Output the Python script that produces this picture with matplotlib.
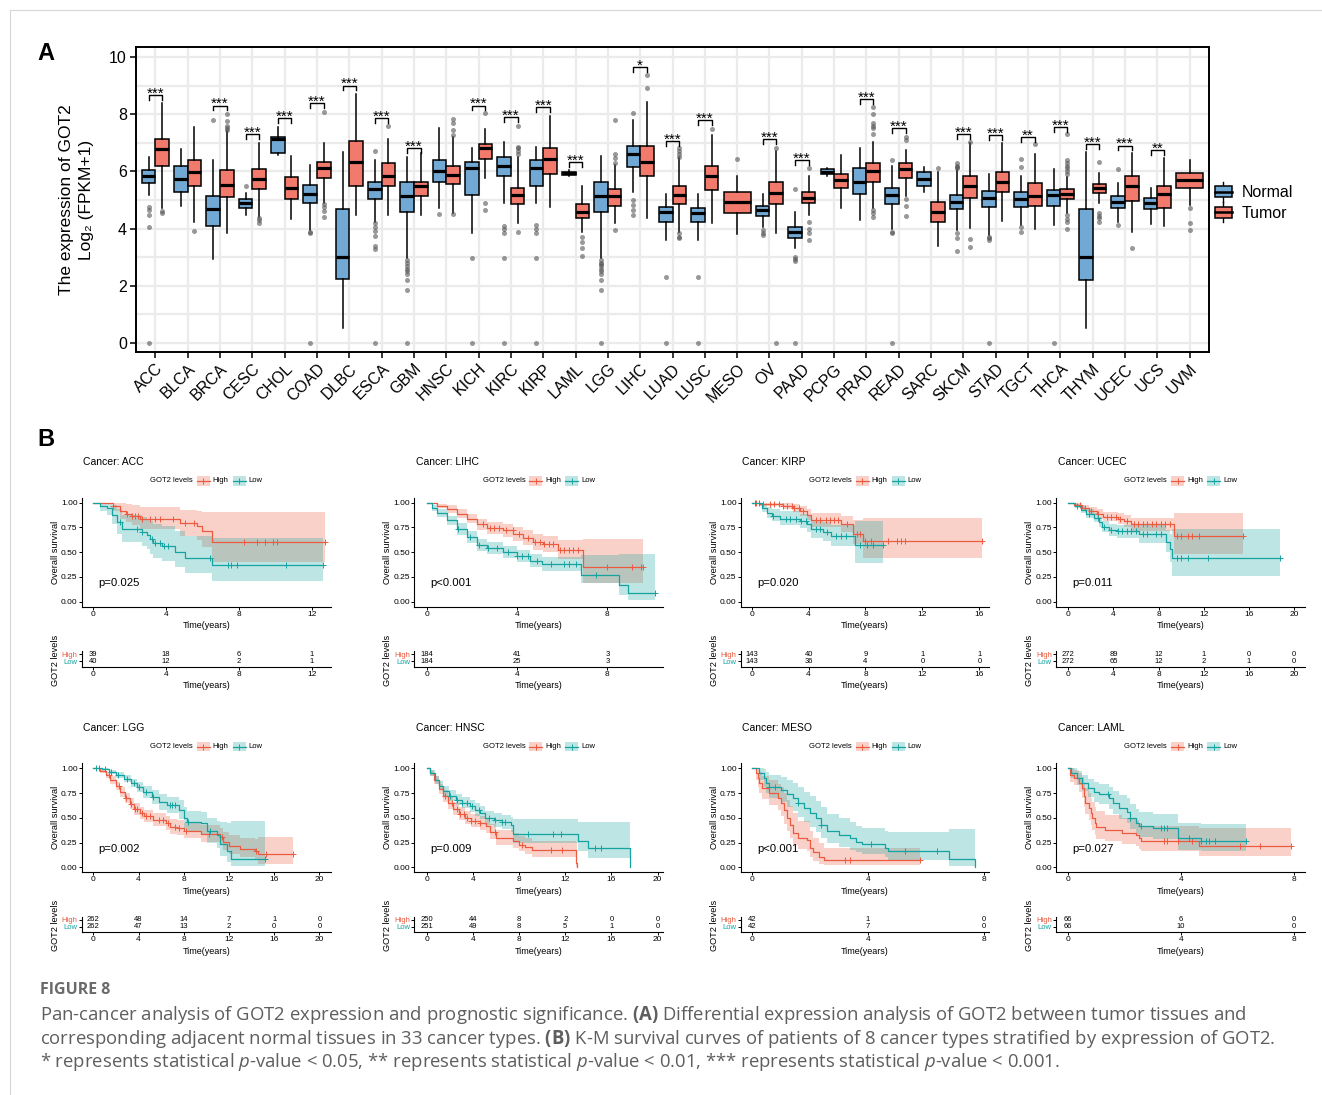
import numpy as np
import matplotlib
matplotlib.use('Agg')
import matplotlib.pyplot as plt
import matplotlib.transforms as mtransforms
from matplotlib.patches import Rectangle, Patch
from matplotlib.lines import Line2D
from matplotlib.legend_handler import HandlerBase

# ---------------- panel A data ----------------
cancers = ['ACC', 'BLCA', 'BRCA', 'CESC', 'CHOL', 'COAD', 'DLBC', 'ESCA', 'GBM', 'HNSC', 'KICH',
           'KIRC', 'KIRP', 'LAML', 'LGG', 'LIHC', 'LUAD', 'LUSC', 'MESO', 'OV', 'PAAD', 'PCPG',
           'PRAD', 'READ', 'SARC', 'SKCM', 'STAD', 'TGCT', 'THCA', 'THYM', 'UCEC', 'UCS', 'UVM']

# (whisker low, q1, median, q3, whisker high); None = no normal samples
normal_box = [
    (5.17, 5.58, 5.84, 6.05, 6.49), (4.80, 5.29, 5.72, 6.19, 6.78), (2.94, 4.10, 4.69, 5.15, 6.38),
    (4.48, 4.71, 4.88, 5.02, 5.23), (6.57, 6.65, 7.12, 7.21, 7.54), (3.95, 4.88, 5.21, 5.52, 6.22),
    (0.51, 2.23, 3.02, 4.69, 6.67), (4.24, 5.02, 5.37, 5.62, 6.38), (2.96, 4.59, 5.15, 5.64, 6.49),
    (4.71, 5.61, 6.01, 6.38, 7.51), (3.86, 5.17, 6.11, 6.34, 6.83), (4.88, 5.82, 6.19, 6.49, 7.02),
    (4.88, 5.47, 6.13, 6.38, 6.84), (5.82, 5.87, 5.93, 5.99, 6.05), (2.96, 4.57, 5.15, 5.64, 6.52),
    (5.26, 6.14, 6.60, 6.89, 7.80), (3.60, 4.24, 4.57, 4.74, 5.21), (3.60, 4.24, 4.56, 4.73, 5.21),
    None, (4.07, 4.45, 4.65, 4.80, 5.20), (3.31, 3.66, 3.87, 4.07, 4.59),
    (5.82, 5.90, 5.99, 6.07, 6.13), (4.30, 5.20, 5.62, 6.11, 6.81), (3.97, 4.85, 5.17, 5.41, 6.17),
    (5.29, 5.49, 5.72, 5.96, 6.14), (3.95, 4.67, 4.94, 5.17, 6.05), (3.78, 4.77, 5.08, 5.31, 5.91),
    (4.13, 4.77, 5.02, 5.26, 5.84), (4.13, 4.80, 5.17, 5.35, 6.07), (0.51, 2.20, 3.02, 4.67, 6.69),
    (4.24, 4.73, 4.92, 5.12, 5.58), (4.15, 4.69, 4.91, 5.08, 5.41), None]
normal_out = [
    [4.77, 4.65, 4.48, 4.04, 0], [], [7.80], [5.50], [], [3.89, 3.86, 0], [],
    [6.72, 4.18, 4.05, 3.9, 3.75, 3.4, 3.3, 0], [2.9, 2.8, 2.7, 2.6, 2.5, 2.4, 2.2, 1.85, 0],
    [4.51], [2.98, 0], [4.10, 3.97, 3.86, 2.98, 0], [4.13, 3.97, 3.86, 2.98, 0], [],
    [2.9, 2.8, 2.75, 2.7, 2.6, 2.5, 2.4, 2.2, 1.85, 0], [8.03, 5.0, 4.83, 4.65, 4.48],
    [2.32, 0], [2.32, 0], [], [3.95, 3.85, 3.78], [5.37, 3.0, 2.92, 2.85, 0], [], [],
    [6.40, 3.89, 3.83, 0], [], [6.28, 6.2, 6.15, 6.1, 3.86, 3.66, 3.23], [3.72, 3.66, 3.6, 0],
    [6.42, 6.14, 4.07, 3.89], [0], [], [6.08, 4.13], [], []]

tumor_box = [
    (4.71, 6.17, 6.78, 7.12, 8.40), (4.24, 5.49, 5.97, 6.38, 7.56), (3.86, 5.09, 5.52, 6.03, 7.40),
    (4.42, 5.37, 5.72, 6.07, 7.00), (4.32, 5.02, 5.41, 5.79, 6.54), (4.91, 5.78, 6.13, 6.34, 7.00),
    (4.48, 5.50, 6.34, 7.06, 8.71), (4.48, 5.50, 5.84, 6.28, 7.13), (4.48, 5.15, 5.47, 5.64, 6.65),
    (4.53, 5.55, 5.87, 6.17, 7.21), (5.76, 6.43, 6.83, 6.95, 7.48), (4.18, 4.85, 5.17, 5.43, 6.50),
    (4.74, 5.90, 6.43, 6.81, 7.94), (3.89, 4.38, 4.59, 4.85, 5.47), (4.21, 4.80, 5.12, 5.37, 6.22),
    (4.36, 5.82, 6.34, 6.89, 8.41), (3.89, 4.85, 5.17, 5.50, 6.45), (4.21, 5.35, 5.82, 6.17, 7.27),
    (3.80, 4.53, 4.92, 5.27, 5.82), (3.86, 4.86, 5.23, 5.61, 6.70), (4.48, 4.88, 5.08, 5.29, 5.84),
    (4.71, 5.43, 5.70, 5.91, 6.57), (4.71, 5.64, 6.01, 6.28, 7.04), (5.12, 5.78, 6.07, 6.28, 6.75),
    (3.39, 4.22, 4.57, 4.94, 5.99), (4.01, 5.08, 5.50, 5.84, 6.98), (4.27, 5.27, 5.64, 5.97, 6.98),
    (3.97, 4.80, 5.14, 5.58, 6.60), (4.53, 5.02, 5.21, 5.38, 5.80), (4.88, 5.23, 5.41, 5.56, 5.93),
    (3.89, 4.97, 5.47, 5.82, 6.63), (4.09, 4.71, 5.20, 5.47, 6.46), (4.83, 5.43, 5.68, 5.93, 6.38)]
tumor_out = [
    [4.63, 4.56], [3.93], [8.0, 7.76, 7.59, 7.52, 7.46], [4.36, 4.30, 4.21], [],
    [8.09, 4.85, 4.75, 4.6, 4.4], [], [7.59], [], [7.83, 7.7, 7.45, 7.27, 4.51],
    [8.03, 4.88, 4.65], [6.6, 6.7, 6.8, 6.86, 7.59, 3.89], [], [3.69, 3.54, 3.31, 3.04],
    [7.80, 6.6, 6.45, 6.3, 3.95], [8.93, 9.37], [6.5, 6.6, 6.7, 6.8, 3.83, 3.72, 3.66], [7.48],
    [6.42], [6.83, 0], [6.10, 4.24, 4.0, 3.86, 3.6], [],
    [8.26, 8.0, 7.7, 7.6, 7.5, 7.3, 4.65, 4.55, 4.42], [7.21, 7.1, 5.02, 4.80, 4.45], [6.10],
    [7.04, 3.62, 3.37], [], [6.95], [5.9, 6.0, 6.1, 6.2, 6.3, 6.4, 7.30, 4.48, 4.35, 4.24, 3.97],
    [6.31, 4.53, 4.45, 4.38, 4.24], [3.31], [], [4.71, 4.18, 3.95]]

sig_label = ['***', '', '***', '***', '***', '***', '***', '***', '***', '', '***', '***', '***',
             '***', '', '*', '***', '***', '', '***', '***', '', '***', '***', '', '***', '***',
             '**', '***', '***', '***', '**', '']
sig_height = [8.67, 0, 8.30, 7.31, 7.86, 8.38, 9.0, 7.86, 6.81, 0, 8.30, 7.89, 8.24, 6.32, 0,
              9.64, 7.07, 7.80, 0, 7.12, 6.38, 0, 8.52, 7.51, 0, 7.30, 7.27, 7.21, 7.56, 6.96,
              6.90, 6.75, 0]

# ---------------- panel B data (Kaplan-Meier curves) ----------------
acc_high_t = [0, 1.06, 1.47, 1.79, 2.1, 2.56, 4.76, 5.68, 5.95, 6.5]
acc_high_s = [1.0, 0.97, 0.92, 0.89, 0.87, 0.84, 0.79, 0.76, 0.71, 0.60]
acc_high_lo = [1.0, 0.92, 0.84, 0.80, 0.77, 0.73, 0.66, 0.62, 0.55, 0.40]
acc_high_up = [1.0, 1.0, 1.0, 0.99, 0.98, 0.96, 0.93, 0.92, 0.91, 0.91]
acc_high_cens = [1.06, 1.87, 2.11, 2.29, 2.47, 2.66, 3.11, 3.39, 3.66, 4.36, 5.04, 5.53, 8.28,
                 8.97, 9.43, 9.89, 10.07, 12.73]
acc_low_t = [0, 0.37, 0.73, 1.0, 1.32, 1.56, 2.66, 2.93, 3.11, 3.3, 3.75, 4.49, 5.04, 6.5]
acc_low_s = [1, 0.97, 0.95, 0.88, 0.80, 0.73, 0.70, 0.67, 0.63, 0.59, 0.56, 0.50, 0.44, 0.37]
acc_low_lo = [1, 0.92, 0.88, 0.78, 0.68, 0.60, 0.56, 0.53, 0.48, 0.44, 0.41, 0.35, 0.29, 0.21]
acc_low_up = [1, 1, 1, 0.98, 0.94, 0.88, 0.86, 0.84, 0.81, 0.78, 0.76, 0.71, 0.66, 0.64]
acc_low_cens = [1.47, 2.38, 2.66, 3.2, 3.39, 3.66, 3.88, 4.12, 6.41, 7.42, 7.55, 7.91, 10.57, 12.6]
acc_ends = (12.73, 12.6)
acc_risk = ([39, 18, 6, 1], [40, 12, 2, 1])

lihc_high_t = [0, 0.44, 0.89, 1.33, 1.77, 2.21, 2.66, 3.39, 3.84, 4.28, 4.72, 5.17, 5.83, 6.94]
lihc_high_s = [1, 0.97, 0.94, 0.89, 0.84, 0.78, 0.74, 0.72, 0.68, 0.64, 0.60, 0.58, 0.52, 0.35]
lihc_high_lo = [1, 0.95, 0.90, 0.85, 0.79, 0.72, 0.68, 0.65, 0.61, 0.57, 0.52, 0.50, 0.43, 0.19]
lihc_high_up = [1, 0.99, 0.98, 0.94, 0.89, 0.84, 0.80, 0.78, 0.75, 0.72, 0.68, 0.66, 0.62, 0.63]
lihc_high_cens = [2.5, 2.8, 3.0, 3.2, 3.5, 3.8, 4.1, 4.5, 4.8, 5.0, 5.2, 5.4, 5.6, 5.9, 6.1, 6.3,
                  6.5, 6.7, 8.0, 9.1, 9.5, 9.6]
lihc_low_t = [0, 0.22, 0.44, 0.89, 1.33, 1.77, 2.21, 2.66, 3.39, 3.99, 4.58, 5.09, 6.82, 8.53, 8.93]
lihc_low_s = [1, 0.95, 0.90, 0.82, 0.73, 0.65, 0.57, 0.54, 0.50, 0.46, 0.41, 0.38, 0.27, 0.17, 0.09]
lihc_low_lo = [1, 0.92, 0.86, 0.77, 0.67, 0.59, 0.51, 0.48, 0.44, 0.40, 0.35, 0.31, 0.19, 0.07, 0.02]
lihc_low_up = [1, 0.98, 0.94, 0.87, 0.79, 0.71, 0.63, 0.60, 0.56, 0.52, 0.48, 0.45, 0.47, 0.48, 0.48]
lihc_low_cens = [1.4, 1.9, 2.3, 2.7, 3.1, 3.6, 4.0, 4.2, 4.5, 4.9, 5.5, 6.1, 6.3, 6.6, 7.5, 10.1]
lihc_ends = (9.6, 10.1)
lihc_risk = ([184, 41, 3], [184, 25, 3])

kirp_high_t = [0, 0.6, 2.2, 2.9, 3.4, 3.9, 4.2, 6.3, 7.1, 7.85]
kirp_high_s = [1, 0.99, 0.97, 0.95, 0.92, 0.88, 0.82, 0.78, 0.68, 0.61]
kirp_high_lo = [1, 0.97, 0.94, 0.91, 0.87, 0.82, 0.75, 0.70, 0.58, 0.44]
kirp_high_up = [1, 1, 1, 0.99, 0.97, 0.94, 0.90, 0.87, 0.82, 0.85]
kirp_high_cens = [0.3, 0.8, 1.3, 1.6, 1.9, 2.2, 2.5, 2.8, 3.0, 3.3, 3.6, 4.5, 4.8, 5.2, 5.5, 5.8,
                  6.1, 6.7, 7.4, 7.6, 8.0, 8.4, 9.6, 10.2, 10.5, 10.8, 16.2]
kirp_low_t = [0, 0.7, 1.05, 1.4, 2.0, 3.4, 3.9, 4.2, 5.0, 5.6, 7.26]
kirp_low_s = [1, 0.95, 0.90, 0.87, 0.84, 0.81, 0.78, 0.73, 0.70, 0.66, 0.57]
kirp_low_lo = [1, 0.91, 0.85, 0.81, 0.77, 0.74, 0.70, 0.64, 0.61, 0.56, 0.39]
kirp_low_up = [1, 0.99, 0.96, 0.94, 0.92, 0.89, 0.87, 0.83, 0.80, 0.77, 0.81]
kirp_low_cens = [0.2, 0.5, 1.5, 2.4, 2.7, 3.1, 3.5, 3.8, 4.5, 4.8, 5.3, 5.9, 6.3, 6.6, 7.6, 8.1,
                 8.5, 9.2]
kirp_ends = (16.2, 9.2)
kirp_risk = ([143, 40, 9, 1, 1], [143, 36, 4, 0, 0])

ucec_high_t = [0, 0.5, 1.2, 1.8, 2.5, 3.1, 4.4, 4.9, 5.6, 9.35]
ucec_high_s = [1, 0.98, 0.95, 0.92, 0.89, 0.86, 0.84, 0.81, 0.78, 0.66]
ucec_high_lo = [1, 0.96, 0.92, 0.88, 0.84, 0.81, 0.78, 0.75, 0.71, 0.48]
ucec_high_up = [1, 1, 0.98, 0.96, 0.94, 0.91, 0.90, 0.88, 0.85, 0.90]
ucec_high_cens = [1.0, 1.5, 2.0, 2.6, 3.4, 3.8, 4.2, 4.6, 5.2, 5.8, 6.2, 6.6, 7.0, 7.4, 7.8, 8.2,
                  8.6, 9.0, 9.6, 10.0, 10.6, 11.0, 11.6, 15.5]
ucec_low_t = [0, 0.6, 1.1, 1.6, 2.3, 2.7, 3.0, 3.6, 4.3, 6.3, 8.7, 9.0, 9.2]
ucec_low_s = [1, 0.97, 0.93, 0.89, 0.85, 0.80, 0.75, 0.72, 0.71, 0.68, 0.60, 0.53, 0.44]
ucec_low_lo = [1, 0.95, 0.90, 0.85, 0.80, 0.75, 0.70, 0.66, 0.64, 0.59, 0.50, 0.40, 0.26]
ucec_low_up = [1, 0.99, 0.97, 0.94, 0.90, 0.86, 0.81, 0.78, 0.77, 0.77, 0.72, 0.68, 0.73]
ucec_low_cens = [0.8, 1.8, 2.6, 3.2, 3.8, 4.4, 4.8, 5.2, 5.6, 6.0, 6.6, 7.0, 7.8, 8.2, 9.6, 10.0,
                 10.6, 12.4, 18.8]
ucec_ends = (15.5, 18.8)
ucec_risk = ([272, 89, 12, 1, 0, 0], [272, 65, 12, 2, 1, 0])

lgg_high_t = [0, 0.6, 1.1, 1.5, 2.0, 2.4, 2.8, 3.2, 3.6, 4.1, 4.5, 5.3, 6.4, 6.8, 7.4, 8.0, 9.5,
              11.2, 11.5, 12.0, 13.0, 14.3, 14.6]
lgg_high_s = [1, 0.97, 0.93, 0.88, 0.82, 0.76, 0.70, 0.64, 0.59, 0.55, 0.52, 0.48, 0.45, 0.41,
              0.40, 0.37, 0.34, 0.31, 0.26, 0.22, 0.19, 0.16, 0.13]
lgg_high_lo = [1, 0.95, 0.90, 0.84, 0.78, 0.71, 0.65, 0.59, 0.53, 0.49, 0.46, 0.42, 0.38, 0.34,
               0.33, 0.30, 0.26, 0.23, 0.18, 0.13, 0.10, 0.07, 0.03]
lgg_high_up = [1, 0.99, 0.96, 0.92, 0.86, 0.81, 0.75, 0.70, 0.65, 0.61, 0.58, 0.55, 0.52, 0.49,
               0.48, 0.45, 0.43, 0.40, 0.36, 0.33, 0.30, 0.29, 0.31]
lgg_high_cens = [1.4, 2.3, 2.9, 3.3, 3.7, 3.9, 4.3, 4.7, 5.0, 5.8, 6.2, 6.6, 7.2, 7.6, 8.2, 10.2,
                 11.4, 14.4, 15.3, 17.7]
lgg_low_t = [0, 0.8, 1.4, 2.0, 2.7, 3.3, 3.9, 4.4, 5.2, 5.8, 6.5, 7.6, 8.0, 8.3, 9.5, 10.1, 10.9,
             11.2, 11.8, 12.2]
lgg_low_s = [1, 0.99, 0.96, 0.93, 0.89, 0.85, 0.81, 0.76, 0.71, 0.66, 0.63, 0.58, 0.50, 0.46,
             0.45, 0.37, 0.33, 0.24, 0.17, 0.08]
lgg_low_lo = [1, 0.98, 0.94, 0.90, 0.86, 0.81, 0.76, 0.70, 0.64, 0.58, 0.55, 0.49, 0.40, 0.36,
              0.34, 0.25, 0.20, 0.11, 0.05, 0.01]
lgg_low_up = [1, 1, 0.98, 0.96, 0.93, 0.89, 0.86, 0.82, 0.78, 0.74, 0.71, 0.68, 0.61, 0.57, 0.56,
              0.50, 0.47, 0.46, 0.45, 0.47]
lgg_low_cens = [0.2, 0.5, 1.0, 1.6, 2.2, 3.0, 3.6, 4.0, 4.7, 5.3, 6.8, 7.0, 7.2, 8.4, 10.3, 15.2]
lgg_ends = (17.7, 15.2)
lgg_risk = ([262, 48, 14, 7, 1, 0], [262, 47, 13, 2, 0, 0])

hnsc_high_t = [0, 0.3, 0.6, 1.0, 1.4, 1.8, 2.3, 2.8, 3.3, 3.8, 4.6, 5.1, 5.5, 6.0, 7.5, 8.0, 8.5,
               9.1, 12.9, 12.95, 13.0]
hnsc_high_s = [1, 0.95, 0.88, 0.79, 0.72, 0.65, 0.59, 0.54, 0.50, 0.47, 0.45, 0.42, 0.36, 0.30,
               0.27, 0.23, 0.21, 0.18, 0.10, 0.04, 0.0]
hnsc_high_lo = [1, 0.92, 0.84, 0.74, 0.66, 0.59, 0.53, 0.48, 0.44, 0.41, 0.38, 0.35, 0.29, 0.23,
                0.20, 0.16, 0.13, 0.10, 0.03, 0.0, 0.0]
hnsc_high_up = [1, 0.98, 0.92, 0.84, 0.78, 0.71, 0.66, 0.61, 0.57, 0.54, 0.52, 0.49, 0.44, 0.38,
                0.35, 0.32, 0.30, 0.27, 0.26, 0.26, 0.26]
hnsc_high_cens = [1.6, 2.2, 2.6, 2.9, 3.2, 3.5, 3.8, 4.2, 4.6, 5.9, 8.2, 10.8, 11.7]
hnsc_low_t = [0, 0.3, 0.7, 1.0, 1.4, 1.9, 2.5, 3.0, 3.7, 4.2, 4.6, 5.0, 5.8, 6.5, 7.3, 7.5, 13.1,
              14.0, 17.6]
hnsc_low_s = [1, 0.95, 0.88, 0.82, 0.77, 0.72, 0.68, 0.65, 0.62, 0.58, 0.55, 0.50, 0.48, 0.46,
              0.43, 0.34, 0.27, 0.20, 0.0]
hnsc_low_lo = [1, 0.92, 0.84, 0.78, 0.72, 0.67, 0.63, 0.60, 0.56, 0.52, 0.49, 0.43, 0.41, 0.39,
               0.36, 0.25, 0.17, 0.09, 0.0]
hnsc_low_up = [1, 0.98, 0.92, 0.87, 0.82, 0.78, 0.74, 0.71, 0.68, 0.65, 0.62, 0.57, 0.55, 0.53,
               0.51, 0.49, 0.46, 0.46, 0.46]
hnsc_low_cens = [2.0, 2.6, 3.0, 3.5, 3.9, 4.5, 5.4, 5.9, 6.5, 6.8, 8.8, 10.9, 11.6, 14.6, 15.1]
hnsc_ends = (13.0, 17.6)
hnsc_risk = ([250, 44, 8, 2, 0, 0], [251, 49, 8, 5, 1, 0])

meso_high_t = [0, 0.15, 0.2, 0.25, 0.35, 0.6, 0.9, 1.0, 1.1, 1.2, 1.3, 1.4, 1.6, 1.9, 2.0, 2.1,
               2.3, 2.5]
meso_high_s = [1, 0.95, 0.90, 0.85, 0.80, 0.75, 0.70, 0.65, 0.58, 0.50, 0.43, 0.35, 0.30, 0.28,
               0.20, 0.15, 0.10, 0.07]
meso_high_lo = [1, 0.88, 0.81, 0.75, 0.69, 0.63, 0.58, 0.52, 0.44, 0.37, 0.30, 0.23, 0.19, 0.16,
                0.10, 0.06, 0.03, 0.02]
meso_high_up = [1, 1, 0.99, 0.96, 0.92, 0.88, 0.84, 0.81, 0.75, 0.68, 0.62, 0.55, 0.47, 0.47,
                0.37, 0.30, 0.25, 0.20]
meso_high_cens = [3.2, 3.4, 5.8]
meso_low_t = [0, 0.25, 0.4, 0.5, 0.6, 1.0, 1.2, 1.4, 1.6, 1.8, 2.0, 2.2, 2.4, 2.6, 3.0, 3.4, 3.6,
              3.8, 4.6, 4.7, 6.8, 7.7]
meso_low_s = [1, 0.95, 0.90, 0.85, 0.81, 0.78, 0.74, 0.70, 0.65, 0.60, 0.55, 0.50, 0.43, 0.37,
              0.33, 0.30, 0.26, 0.24, 0.20, 0.16, 0.08, 0.0]
meso_low_lo = [1, 0.88, 0.81, 0.75, 0.70, 0.66, 0.61, 0.57, 0.51, 0.46, 0.41, 0.36, 0.30, 0.25,
               0.21, 0.18, 0.15, 0.13, 0.10, 0.07, 0.01, 0.0]
meso_low_up = [1, 1, 0.99, 0.96, 0.93, 0.91, 0.88, 0.85, 0.81, 0.76, 0.72, 0.67, 0.61, 0.54, 0.50,
               0.46, 0.42, 0.40, 0.37, 0.36, 0.39, 0.39]
meso_low_cens = [0.6, 0.8, 1.6, 2.4, 4.1, 5.3, 6.4]
meso_ends = (5.8, 7.7)
meso_risk = ([42, 1, 0], [42, 7, 0])

laml_high_t = [0, 0.05, 0.2, 0.4, 0.5, 0.55, 0.6, 0.75, 0.8, 0.85, 0.95, 1.0, 1.3, 1.9, 2.4, 2.5,
               2.6, 4.65]
laml_high_s = [1, 0.93, 0.90, 0.85, 0.80, 0.72, 0.65, 0.60, 0.55, 0.50, 0.45, 0.41, 0.38, 0.35,
               0.33, 0.30, 0.27, 0.22]
laml_high_lo = [1, 0.86, 0.83, 0.76, 0.70, 0.61, 0.54, 0.48, 0.43, 0.38, 0.33, 0.29, 0.27, 0.24,
                0.22, 0.19, 0.17, 0.11]
laml_high_up = [1, 1, 0.98, 0.95, 0.91, 0.85, 0.80, 0.75, 0.70, 0.66, 0.61, 0.57, 0.53, 0.50,
                0.48, 0.45, 0.42, 0.40]
laml_high_cens = [3.4, 3.5, 3.9, 4.4, 6.1, 6.8, 7.9]
laml_low_t = [0, 0.1, 0.3, 0.5, 0.7, 0.9, 1.1, 1.45, 1.6, 1.8, 2.1, 2.2, 2.4, 2.5, 3.0, 3.9, 4.7]
laml_low_s = [1, 0.95, 0.90, 0.85, 0.80, 0.76, 0.74, 0.70, 0.65, 0.60, 0.56, 0.50, 0.45, 0.42,
              0.40, 0.30, 0.27]
laml_low_lo = [1, 0.90, 0.83, 0.77, 0.71, 0.66, 0.64, 0.59, 0.54, 0.49, 0.45, 0.39, 0.34, 0.31,
               0.29, 0.18, 0.16]
laml_low_up = [1, 1, 0.97, 0.93, 0.89, 0.86, 0.84, 0.81, 0.77, 0.73, 0.70, 0.64, 0.59, 0.56,
               0.54, 0.45, 0.44]
laml_low_cens = [1.4, 2.2, 2.6, 3.3, 3.4, 3.5, 4.3, 4.7, 4.9, 5.0, 5.2, 6.3]
laml_ends = (7.9, 6.3)
laml_risk = ([66, 6, 0], [66, 10, 0])

# ---------------- style ----------------
plt.rcParams['font.family'] = ['Liberation Sans', 'DejaVu Sans']
plt.rcParams['mathtext.fontset'] = 'custom'
plt.rcParams['mathtext.rm'] = 'Open Sans'
plt.rcParams['mathtext.bf'] = 'Open Sans:bold'
plt.rcParams['mathtext.it'] = 'Open Sans:italic'

BLUE = '#72A8D4'
RED = '#F27A6C'
HIGH_C = '#EC5A3F'
LOW_C = '#14A3A1'
GRID = '#EBEBEB'
CAP = '#5e5e5e'

W, H = 1322, 1095
fig = plt.figure(figsize=(W / 100, H / 100), dpi=100)


def px_rect(x0, y0, x1, y1):
    return [x0 / W, 1 - y1 / H, (x1 - x0) / W, (y1 - y0) / H]


def ftext(x, y, s, **kw):
    return fig.text(x / W, 1 - y / H, s, **kw)


# frame lines of the page
fig.add_artist(Line2D([10 / W, 1], [1 - 10 / H] * 2, color='#d6d6d6', lw=0.8, transform=fig.transFigure))
fig.add_artist(Line2D([10 / W] * 2, [0, 1 - 10 / H], color='#d6d6d6', lw=0.8, transform=fig.transFigure))

# ---------------- panel A ----------------
axA = fig.add_axes(px_rect(136, 47, 1209, 352))
pos = np.arange(1, len(cancers) + 1)


def to_stats(b, out):
    return dict(whislo=b[0], q1=b[1], med=b[2], q3=b[3], whishi=b[4], fliers=out)


common = dict(patch_artist=True, showcaps=False, manage_ticks=False,
              medianprops=dict(color='black', linewidth=2.3),
              whiskerprops=dict(color='black', linewidth=1.1),
              flierprops=dict(marker='o', markerfacecolor='#555555', markeredgecolor='none',
                              markersize=3.6, alpha=0.6))

for i in range(len(cancers)):
    nb = normal_box[i]
    if nb is not None:
        axA.bxp([to_stats(nb, normal_out[i])], positions=[pos[i] - 0.21], widths=0.42,
                boxprops=dict(facecolor=BLUE, edgecolor='black', linewidth=1.1), **common)
        axA.bxp([to_stats(tumor_box[i], tumor_out[i])], positions=[pos[i] + 0.21], widths=0.42,
                boxprops=dict(facecolor=RED, edgecolor='black', linewidth=1.1), **common)
    else:
        axA.bxp([to_stats(tumor_box[i], tumor_out[i])], positions=[pos[i]], widths=0.83,
                boxprops=dict(facecolor=RED, edgecolor='black', linewidth=1.1), **common)
    if sig_label[i]:
        yb = sig_height[i]
        x0, x1 = pos[i] - 0.21, pos[i] + 0.21
        axA.plot([x0, x0, x1, x1], [yb - 0.17, yb, yb, yb - 0.17], color='black', lw=1.0)
        axA.text(pos[i], yb - 0.09, sig_label[i], ha='center', va='baseline', fontsize=11)

axA.set_xlim(0.4, 33.6)
axA.set_ylim(-0.32, 10.35)
axA.set_xticks(pos)
axA.set_xticklabels(cancers, rotation=45, ha='right', va='top', rotation_mode='anchor')
axA.set_yticks([0, 2, 4, 6, 8, 10])
axA.set_yticks([1, 3, 5, 7, 9], minor=True)
axA.tick_params(axis='both', which='major', labelsize=11.5, length=4, width=1.1, direction='out',
                color='black', pad=2.5)
axA.tick_params(axis='y', which='minor', length=0)
axA.grid(True, which='both', color=GRID, lw=1.6, zorder=0)
axA.set_axisbelow(True)
for sp in axA.spines.values():
    sp.set_linewidth(1.4)

ftext(67, 199.5, 'The expression of GOT2', rotation=90, ha='center', va='center', fontsize=12.5)
ftext(86, 199.5, 'Log\u2082 (FPKM+1)', rotation=90, ha='center', va='center', fontsize=12.5)
ftext(37, 53, 'A', fontsize=17, fontweight='bold', ha='left', va='center')


class BoxKey(HandlerBase):
    def create_artists(self, legend, orig_handle, xdescent, ydescent, width, height, fontsize, trans):
        fc = orig_handle.get_facecolor()
        cx = width / 2 - xdescent
        bw = width * 0.8
        bh = height * 0.8
        y0 = -ydescent + (height - bh) / 2
        wh = Line2D([cx, cx], [-ydescent - height * 0.25, -ydescent + height * 1.25],
                    color='black', lw=1.0, transform=trans)
        box = Rectangle((cx - bw / 2, y0), bw, bh, facecolor=fc, edgecolor='black', lw=1.1,
                        transform=trans)
        med = Line2D([cx - bw / 2, cx + bw / 2], [y0 + bh / 2] * 2, color='black', lw=1.8,
                     transform=trans)
        return [wh, box, med]


axA.legend([Patch(facecolor=BLUE), Patch(facecolor=RED)], ['Normal', 'Tumor'],
           handler_map={Patch: BoxKey()}, loc='center left', bbox_to_anchor=(1213 / W, 1 - 203 / H),
           bbox_transform=fig.transFigure, frameon=False, fontsize=11.5, handlelength=1.3,
           handleheight=0.9, labelspacing=0.35, handletextpad=0.5, borderaxespad=0, borderpad=0)

# ---------------- panel B ----------------
ftext(37, 440, 'B', fontsize=17, fontweight='bold', ha='left', va='center')


def curve(name, grp):
    g = globals()
    return (g[f'{name}_{grp}_t'], g[f'{name}_{grp}_s'], g[f'{name}_{grp}_lo'],
            g[f'{name}_{grp}_up'], g[f'{name}_{grp}_cens'])


panels = [('ACC', 'p=0.025', [0, 4, 8, 12], (-0.64, 13.04)),
          ('LIHC', 'p<0.001', [0, 4, 8], (-0.55, 10.48)),
          ('KIRP', 'p=0.020', [0, 4, 8, 12, 16], (-0.77, 16.7)),
          ('UCEC', 'p=0.011', [0, 4, 8, 12, 16, 20], (-1.09, 20.98)),
          ('LGG', 'p=0.002', [0, 4, 8, 12, 16, 20], (-1.03, 21.0)),
          ('HNSC', 'p=0.009', [0, 4, 8, 12, 16, 20], (-1.1, 20.5)),
          ('MESO', 'p<0.001', [0, 4, 8], (-0.39, 8.2)),
          ('LAML', 'p=0.027', [0, 4, 8], (-0.43, 8.4))]

col_left = [81.7, 414.3, 740.7, 1056]
col_right = [330.7, 663.3, 989.3, 1305]
row_off = [0, 265.6]


def step_at(t, s, x):
    idx = np.searchsorted(t, x, side='right') - 1
    return np.asarray(s)[idx]


def style_small(ax):
    for k in ('top', 'right'):
        ax.spines[k].set_visible(False)
    for k in ('left', 'bottom'):
        ax.spines[k].set_linewidth(0.8)
    ax.tick_params(labelsize=6.0, length=2.0, width=0.7, pad=1.0)


for k, (name, pval, ticks, xlim) in enumerate(panels):
    col, row = k % 4, k // 4
    L, R, ro = col_left[col], col_right[col], row_off[row]
    key = name.lower()
    ends = globals()[f'{key}_ends']
    risk = globals()[f'{key}_risk']

    ax = fig.add_axes(px_rect(L, 497.7 + ro, R, 606.7 + ro))
    for (t, s, lo, up, cens), end, c in ((curve(key, 'high'), ends[0], HIGH_C),
                                        (curve(key, 'low'), ends[1], LOW_C)):
        tt = np.r_[t, end]
        ax.fill_between(tt, np.r_[lo, lo[-1]], np.r_[up, up[-1]], step='post', color=c,
                        alpha=0.28, lw=0)
        ax.step(tt, np.r_[s, s[-1]], where='post', color=c, lw=0.9)
        ax.plot(cens, step_at(t, s, cens), ls='none', marker='+', color=c, ms=4, mew=0.7)
    ax.set_xlim(*xlim)
    ax.set_ylim(-0.05, 1.05)
    ax.set_xticks(ticks)
    ax.set_yticks([0, 0.25, 0.5, 0.75, 1.0])
    ax.set_yticklabels(['0.00', '0.25', '0.50', '0.75', '1.00'])
    style_small(ax)
    ax.text(0.065, 0.19, pval, transform=mtransforms.blended_transform_factory(ax.transAxes, ax.transData),
            fontsize=8.2, va='center', ha='left')

    cx = (L + R) / 2
    ftext(L + 1.5, 462 + ro, f'Cancer: {name}', fontsize=7.5, va='center', ha='left')
    ftext(L - 26.5, 552 + ro, 'Overall survival', rotation=90, fontsize=6.6, ha='center', va='center')
    ftext(cx, 626 + ro, 'Time(years)', fontsize=6.5, ha='center', va='center')

    # legend row
    ly = 481 + ro
    ftext(cx - 56, ly, 'GOT2 levels', fontsize=5.5, ha='left', va='center')
    for x0, c, lab in ((cx - 9.5, HIGH_C, 'High'), (cx + 26.5, LOW_C, 'Low')):
        fig.add_artist(Rectangle((x0 / W, 1 - (ly + 4.8) / H), 13 / W, 9.6 / H, facecolor=c,
                                 alpha=0.28, lw=0, transform=fig.transFigure))
        fig.add_artist(Line2D([x0 / W, (x0 + 13) / W], [1 - ly / H] * 2, color=c, lw=0.9,
                              transform=fig.transFigure))
        fig.add_artist(Line2D([(x0 + 6.5) / W], [1 - ly / H], color=c, marker='+', ms=4, mew=0.7,
                              transform=fig.transFigure))
        ftext(x0 + 16, ly, lab, fontsize=5.5, ha='left', va='center')

    # risk table
    axt = fig.add_axes(px_rect(L, 651.5 + ro, R, 666.7 + ro))
    axt.set_xlim(*xlim)
    axt.set_ylim(-0.77, 1.4)
    axt.set_xticks(ticks)
    axt.set_yticks([1, 0])
    axt.set_yticklabels(['High', 'Low'])
    style_small(axt)
    axt.tick_params(axis='y', labelsize=5.5)
    for lab, c in zip(axt.get_yticklabels(), (HIGH_C, LOW_C)):
        lab.set_color(c)
    for tx, nh, nl in zip(ticks, risk[0], risk[1]):
        axt.text(tx, 1, str(nh), fontsize=5.5, ha='center', va='center')
        axt.text(tx, 0, str(nl), fontsize=5.5, ha='center', va='center')
    ftext(cx, 686 + ro, 'Time(years)', fontsize=6.5, ha='center', va='center')
    ftext(L - 26.5, 660 + ro, 'GOT2 levels', rotation=90, fontsize=6.6, ha='center', va='center')

# ---------------- caption ----------------
ftext(40, 990, 'FIGURE 8', fontsize=11.5, fontweight='bold', family='Open Sans', color='#6a6a6a',
      ha='left', va='center')
cap_lines = [
    'Pan-cancer analysis of GOT2 expression and prognostic significance. $\\mathbf{(A)}$ '
    'Differential expression analysis of GOT2 between tumor tissues and',
    'corresponding adjacent normal tissues in 33 cancer types. $\\mathbf{(B)}$ K-M survival curves '
    'of patients of 8 cancer types stratified by expression of GOT2.',
    '* represents statistical $\\mathit{p}$-value < 0.05, ** represents statistical '
    '$\\mathit{p}$-value < 0.01, *** represents statistical $\\mathit{p}$-value < 0.001.']
cap_y = [1015, 1039, 1062]
renderer = fig.canvas.get_renderer()
probe = ftext(40, 1039, cap_lines[1], fontsize=12, family='Open Sans')
size = 12 * 1235 / probe.get_window_extent(renderer).width
probe.remove()
for s, y in zip(cap_lines, cap_y):
    ftext(40, y, s, fontsize=size, family='Open Sans', color=CAP, ha='left', va='center')

fig.savefig('out.png', dpi=100)
